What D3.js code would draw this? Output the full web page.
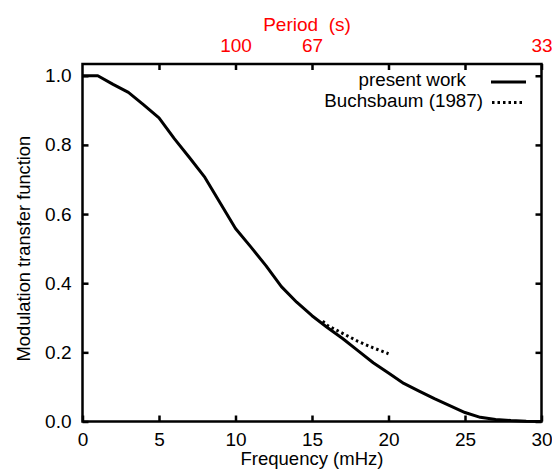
<!DOCTYPE html>
<html>
<head>
<meta charset="utf-8">
<title>Modulation transfer function</title>
<script src="https://d3js.org/d3.v7.min.js"></script>
<style>
  body { margin: 0; background: white; }
  text { font-family: "Liberation Sans", Arial, sans-serif; }
</style>
</head>
<body>
<svg id="chart" width="552" height="470"></svg>
<script>
// present work
var freqPresent = [0, 1, 2, 3, 4, 5, 6, 7, 8, 9, 10, 11, 12, 13, 14, 15, 16, 17, 18, 19, 20, 21, 22, 23, 24, 25, 26, 27, 28, 29, 30];
var mtfPresent = [1.0, 1.0, 0.975, 0.952, 0.916, 0.878, 0.818, 0.763, 0.706, 0.632, 0.558, 0.505, 0.45, 0.39, 0.345, 0.306, 0.272, 0.24, 0.205, 0.17, 0.14, 0.11, 0.088, 0.066, 0.046, 0.026, 0.012, 0.006, 0.003, 0.001, 0.0];
// Buchsbaum (1987)
var freqBuchs = [15.7, 16, 17, 18, 19, 20];
var mtfBuchs = [0.29, 0.278, 0.255, 0.232, 0.213, 0.196];

var xTicks = [0, 5, 10, 15, 20, 25, 30];
var yTicks = [0, 0.2, 0.4, 0.6, 0.8, 1.0];
var periodTicks = [5, 10, 15, 20, 25, 30];
var periodLabels = {10: "100", 15: "67", 30: "33"};

var margin = {left: 82.5, right: 10.5, top: 64, bottom: 48.5};
var svg = d3.select("#chart");
var W = 552, H = 470;
var x = d3.scaleLinear().domain([0, 30]).range([margin.left, W - margin.right]);
var y = d3.scaleLinear().domain([0, 1.034]).range([H - margin.bottom, margin.top]);

var tickLen = 6;
var fs = 19;

// axes, ticks pointing inwards on all four sides
var axBottom = svg.append("g").attr("transform", "translate(0," + y(0) + ")")
    .call(d3.axisBottom(x).tickValues(xTicks).tickSize(-tickLen).tickPadding(11).tickFormat(d3.format("d")));
var axLeft = svg.append("g").attr("transform", "translate(" + x(0) + ",0)")
    .call(d3.axisLeft(y).tickValues(yTicks).tickSize(-tickLen).tickPadding(11).tickFormat(d3.format(".1f")));
var axTop = svg.append("g").attr("transform", "translate(0," + margin.top + ")")
    .call(d3.axisTop(x).tickValues(periodTicks).tickSize(-tickLen).tickPadding(12)
        .tickFormat(function (d) { return periodLabels[d] || ""; }));
var axRight = svg.append("g").attr("transform", "translate(" + x(30) + ",0)")
    .call(d3.axisRight(y).tickValues(yTicks).tickSize(-tickLen).tickFormat(""));

[axBottom, axLeft, axTop, axRight].forEach(function (g) {
    g.select(".domain").remove();
    g.selectAll(".tick line").attr("stroke", "black").attr("stroke-width", 2.5);
    g.selectAll(".tick text").attr("font-size", fs).attr("fill", "black")
        .style("font-family", "'Liberation Sans', Arial, sans-serif");
});
axTop.selectAll(".tick text").attr("fill", "red");

// frame
svg.append("rect")
    .attr("x", x(0)).attr("y", y(1.034))
    .attr("width", x(30) - x(0)).attr("height", y(0) - y(1.034))
    .attr("fill", "none").attr("stroke", "black").attr("stroke-width", 2.5);

var line = d3.line()
    .x(function (d) { return x(d[0]); })
    .y(function (d) { return y(d[1]); });

svg.append("path")
    .datum(d3.zip(freqPresent, mtfPresent))
    .attr("d", line)
    .attr("fill", "none").attr("stroke", "black").attr("stroke-width", 3)
    .attr("stroke-linejoin", "round");

svg.append("path")
    .datum(d3.zip(freqBuchs, mtfBuchs))
    .attr("d", line)
    .attr("fill", "none").attr("stroke", "black").attr("stroke-width", 3)
    .attr("stroke-dasharray", "2.5,3");

// legend
var legend = [
    {label: "present work", dash: null, tx: 466, x1: 491, x2: 526, ly: 82, ty: 86},
    {label: "Buchsbaum (1987)", dash: "2.5,3", tx: 483, x1: 492, x2: 524, ly: 102.5, ty: 107}
];
legend.forEach(function (d) {
    svg.append("text").attr("x", d.tx).attr("y", d.ty).attr("text-anchor", "end")
        .attr("font-size", 18.8).text(d.label);
    svg.append("line").attr("x1", d.x1).attr("x2", d.x2).attr("y1", d.ly).attr("y2", d.ly)
        .attr("stroke", "black").attr("stroke-width", 3)
        .attr("stroke-dasharray", d.dash);
});

// titles
svg.append("text").attr("x", 312).attr("y", 465).attr("text-anchor", "middle")
    .attr("font-size", 18.5).text("Frequency (mHz)");
svg.append("text").attr("transform", "translate(29.5," + y(0.5) + ") rotate(-90)")
    .attr("text-anchor", "middle").attr("font-size", 18.3).text("Modulation transfer function");
svg.append("text").attr("x", 307).attr("y", 31).attr("text-anchor", "middle")
    .attr("font-size", 19).attr("fill", "red").style("white-space", "pre")
    .text("Period  (s)");
</script>
</body>
</html>
